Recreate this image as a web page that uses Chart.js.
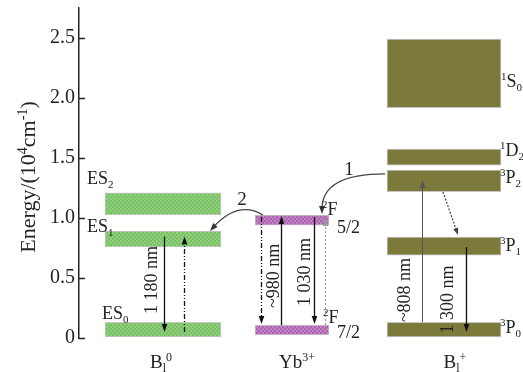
<!DOCTYPE html>
<html>
<head>
<meta charset="utf-8">
<script src="https://cdn.jsdelivr.net/npm/chart.js@4.4.1/dist/chart.umd.min.js"></script>
<style>
  html, body { margin: 0; padding: 0; background: #ffffff; }
  #c { display: block; }
</style>
</head>
<body>
<canvas id="c" width="523" height="372"></canvas>
<script>
// Energy levels (10^4 cm^-1), each level drawn as a floating bar [bottom, top]
const species = ['Bi0', 'Yb3+', 'Bi+'];
const speciesX = [2.1, 5.325, 9.125];            // column centres on the x scale
const bi0Levels = [[0.01, 0.13], [0.76, 0.89], [1.025, 1.21]];       // ES0, ES1, ES2
const ybLevels = [[0.025, 0.108], [0.94, 1.025]];                    // 2F7/2, 2F5/2
const biPlusLevels = [[0.01, 0.13], [0.69, 0.84], [1.22, 1.40], [1.44, 1.575], [1.92, 2.49]]; // 3P0, 3P1, 3P2, 1D2, 1S0
const yTicks = [0, 0.5, 1.0, 1.5, 2.0, 2.5];

// Radiative / pumping transitions: [x, fromE, toE, style]
const transitions = [
  [2.125, 0.845, 0.05, 'solid'],
  [2.625, 0.05, 0.845, 'dashdot'],
  [4.55, 1.008, 0.117, 'dashdot'],
  [5.05, 0.108, 1.017, 'solid'],
  [5.875, 1.008, 0.117, 'solid'],
  [6.15, 0.108, 1.0, 'greydot'],
  [8.575, 0.133, 1.317, 'thin'],
  [9.675, 0.758, 0.05, 'solid']
];
// Non-radiative relaxation 3P2 -> 3P1
const relaxation = [[9.1, 1.217], [9.475, 0.858]];
// Energy transfer paths (start, control, end)
const transfer1 = [[7.65, 1.367], [6.075, 1.367], [6.075, 1.033]];
const transfer2 = [[4.6, 1.025], [3.975, 1.15], [3.275, 0.892]];

const SERIF = '"Liberation Serif", "DejaVu Serif", serif';

function makePattern(base, dot) {
  const t = document.createElement('canvas');
  t.width = 4; t.height = 4;
  const g = t.getContext('2d');
  g.fillStyle = base; g.fillRect(0, 0, 4, 4);
  g.fillStyle = dot; g.fillRect(0, 0, 2, 2); g.fillRect(2, 2, 2, 2);
  return document.getElementById('c').getContext('2d').createPattern(t, 'repeat');
}
const greenFill = makePattern('#6ccb4f', '#9dc493');
const purpleFill = makePattern('#c47fc8', '#a968ae');
const oliveFill = '#7b7a3b';

function levelSets(levels, col, fill, thickness) {
  return levels.map(r => ({
    data: [{ x: speciesX[col], y: r }],
    backgroundColor: fill,
    borderColor: '#c6c6c6',
    borderWidth: 1,
    borderSkipped: false,
    barThickness: thickness,
    grouped: false
  }));
}

const datasets = [
  ...levelSets(bi0Levels, 0, greenFill, 116),
  ...levelSets(ybLevels, 1, purpleFill, 74),
  ...levelSets(biPlusLevels, 2, oliveFill, 114)
];

// rich text: parts = [[text, 'n'|'sup'|'sub'], ...]
function richWidth(ctx, parts, size) {
  let w = 0;
  for (const [t, m] of parts) {
    ctx.font = (m === 'n' ? size : Math.round(size * 0.62)) + 'px ' + SERIF;
    w += ctx.measureText(t).width;
  }
  return w;
}
function drawRich(ctx, parts, x, y, size) {
  let cx = x;
  for (const [t, m] of parts) {
    const s = m === 'n' ? size : Math.round(size * 0.62);
    ctx.font = s + 'px ' + SERIF;
    const dy = m === 'sup' ? -size * 0.38 : (m === 'sub' ? size * 0.22 : 0);
    ctx.fillText(t, cx, y + dy);
    cx += ctx.measureText(t).width;
  }
  return cx;
}

function arrowHead(ctx, x, y, angle, len, half) {
  ctx.save();
  ctx.translate(x, y);
  ctx.rotate(angle);
  ctx.beginPath();
  ctx.moveTo(0, 0);
  ctx.lineTo(-len, -half);
  ctx.lineTo(-len, half);
  ctx.closePath();
  ctx.fill();
  ctx.restore();
}

const diagram = {
  id: 'diagram',
  afterDraw(chart) {
    const { ctx, scales: { x, y }, chartArea } = chart;
    const px = v => x.getPixelForValue(v);
    const py = v => y.getPixelForValue(v);
    ctx.save();
    ctx.textBaseline = 'alphabetic';
    ctx.textAlign = 'left';

    // inward tick marks
    ctx.strokeStyle = '#222'; ctx.lineWidth = 1.5;
    for (const t of yTicks) {
      const yy = Math.round(py(t)) + 0.5;
      ctx.beginPath(); ctx.moveTo(chartArea.left, yy); ctx.lineTo(chartArea.left + 6, yy); ctx.stroke();
    }

    // axis title
    ctx.fillStyle = '#222';
    const title = [['Energy/(10', 'n'], ['4', 'sup'], ['cm', 'n'], ['-1', 'sup'], [')', 'n']];
    const tw = richWidth(ctx, title, 22);
    ctx.save();
    ctx.translate(35, (chartArea.top + chartArea.bottom) / 2 + 4);
    ctx.rotate(-Math.PI / 2);
    drawRich(ctx, title, -tw / 2, 0, 22);
    ctx.restore();

    // transitions
    for (const [tx, e0, e1, style] of transitions) {
      const X = Math.round(px(tx)) + 0.5, Y0 = py(e0), Y1 = py(e1);
      const dir = Y1 > Y0 ? 1 : -1;
      ctx.save();
      let col = '#111';
      ctx.lineWidth = 1.3;
      if (style === 'dashdot') ctx.setLineDash([5, 2, 1, 2, 1, 2]);
      if (style === 'greydot') { col = '#9a9a9a'; ctx.setLineDash([2, 2]); ctx.lineWidth = 1.2; }
      if (style === 'thin') { col = '#555'; ctx.lineWidth = 1; }
      ctx.strokeStyle = col; ctx.fillStyle = col;
      ctx.beginPath(); ctx.moveTo(X, Y0); ctx.lineTo(X, Y1 - dir * 6); ctx.stroke();
      ctx.setLineDash([]);
      arrowHead(ctx, X, Y1, dir > 0 ? Math.PI / 2 : -Math.PI / 2, 8, 2.8);
      ctx.restore();
    }

    // non-radiative relaxation
    {
      const [a, b] = relaxation;
      const X0 = px(a[0]), Y0 = py(a[1]), X1 = px(b[0]), Y1 = py(b[1]);
      const ang = Math.atan2(Y1 - Y0, X1 - X0);
      ctx.save();
      ctx.strokeStyle = '#444'; ctx.fillStyle = '#444'; ctx.lineWidth = 1.2;
      ctx.setLineDash([2, 1.5]);
      ctx.beginPath(); ctx.moveTo(X0, Y0); ctx.lineTo(X1 - 6 * Math.cos(ang), Y1 - 6 * Math.sin(ang)); ctx.stroke();
      ctx.setLineDash([]);
      arrowHead(ctx, X1, Y1, ang, 7, 2.6);
      ctx.restore();
    }

    // energy-transfer curves
    for (const path of [transfer1, transfer2]) {
      const [s, c, e] = path.map(p => [px(p[0]), py(p[1])]);
      ctx.save();
      ctx.strokeStyle = '#444'; ctx.fillStyle = '#333'; ctx.lineWidth = 1.2;
      ctx.beginPath(); ctx.moveTo(s[0], s[1]);
      const ang = Math.atan2(e[1] - c[1], e[0] - c[0]);
      ctx.quadraticCurveTo(c[0], c[1], e[0] - 5 * Math.cos(ang), e[1] - 5 * Math.sin(ang));
      ctx.stroke();
      arrowHead(ctx, e[0], e[1], ang, 8, 3);
      ctx.restore();
    }

    // path numbers
    ctx.fillStyle = '#222';
    ctx.font = '19px ' + SERIF;
    ctx.textAlign = 'center';
    ctx.fillText('1', px(6.75), py(1.36));
    ctx.fillText('2', px(4.075), py(1.108));
    ctx.textAlign = 'left';

    // level labels
    const lab = (parts, xv, ev, size) => drawRich(ctx, parts, px(xv), py(ev), size || 18);
    lab([['ES', 'n'], ['2', 'sub']], 0.2, 1.283);
    lab([['ES', 'n'], ['1', 'sub']], 0.2, 0.883);
    lab([['ES', 'n'], ['0', 'sub']], 0.575, 0.158);
    lab([['2', 'sup'], ['F', 'n']], 6.075, 1.025);
    lab([['5/2', 'n']], 6.45, 0.875);
    lab([['2', 'sup'], ['F', 'n']], 6.1, 0.125);
    lab([['7/2', 'n']], 6.45, 0.0);
    lab([['1', 'sup'], ['S', 'n'], ['0', 'sub']], 10.55, 2.092);
    lab([['1', 'sup'], ['D', 'n'], ['2', 'sub']], 10.525, 1.517);
    lab([['3', 'sup'], ['P', 'n'], ['2', 'sub']], 10.525, 1.292);
    lab([['3', 'sup'], ['P', 'n'], ['1', 'sub']], 10.525, 0.725);
    lab([['3', 'sup'], ['P', 'n'], ['0', 'sub']], 10.525, 0.042);

    // wavelength labels (rotated)
    const vlab = (text, xv, ev) => {
      ctx.save();
      ctx.translate(px(xv), py(ev));
      ctx.rotate(-Math.PI / 2);
      ctx.font = '18px ' + SERIF;
      ctx.textAlign = 'center';
      ctx.textBaseline = 'middle';
      ctx.fillText(text, 0, 0);
      ctx.restore();
    };
    vlab('1 180 nm', 1.825, 0.483);
    vlab('~980 nm', 4.875, 0.517);
    vlab('1 030 nm', 5.65, 0.55);
    vlab('~808 nm', 8.15, 0.4);
    vlab('1 300 nm', 9.225, 0.32);

    // species labels under the columns
    const names = [
      [['B', 'n'], ['l', 'sub'], ['0', 'sup']],
      [['Yb', 'n'], ['3+', 'sup']],
      [['B', 'n'], ['l', 'sub'], ['+', 'sup']]
    ];
    const nameX = [2.05, 5.45, 9.4];
    names.forEach((parts, i) => {
      const w = richWidth(ctx, parts, 19);
      drawRich(ctx, parts, px(nameX[i]) - w / 2, chartArea.bottom + 30, 19);
    });

    ctx.restore();
  }
};

new Chart(document.getElementById('c'), {
  type: 'bar',
  data: { datasets },
  options: {
    responsive: false,
    animation: false,
    layout: { padding: { top: 8, bottom: 34, right: 4, left: 0 } },
    plugins: { legend: { display: false }, tooltip: { enabled: false } },
    scales: {
      x: { type: 'linear', min: 0, max: 11, offset: false, display: false },
      y: {
        min: 0,
        max: 2.75,
        afterFit(s) { s.width = 79; s.paddingTop = 0; s.paddingBottom = 0; },
        afterBuildTicks(s) { s.ticks = yTicks.map(v => ({ value: v })); },
        ticks: {
          callback: v => (v === 0 ? '0' : v.toFixed(1)),
          font: { family: SERIF, size: 20 },
          color: '#222',
          padding: 4
        },
        grid: { display: false, drawTicks: false },
        border: { display: true, color: '#222', width: 1.5 }
      }
    }
  },
  plugins: [diagram]
});
</script>
</body>
</html>
